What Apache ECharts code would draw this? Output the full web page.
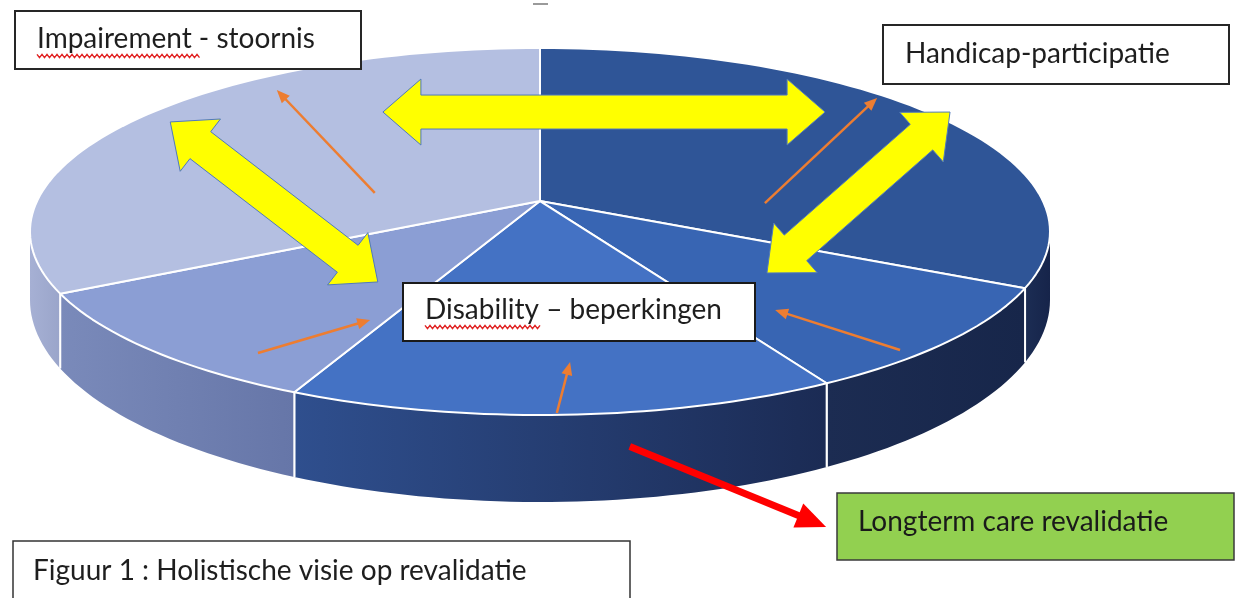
<!DOCTYPE html>
<html>
<head>
<meta charset="utf-8">
<script src="https://cdn.jsdelivr.net/npm/echarts@6/dist/echarts.min.js"></script>
<style>
  html, body { margin: 0; padding: 0; background: #fff; }
  #chart { width: 1236px; height: 598px; }
</style>
</head>
<body>
<div id="chart"></div>
<script>
// pie slices, clockwise from 12 o'clock
const sliceNames = ["Participatie", "Participatie / beperkingen", "Beperkingen", "Stoornis / beperkingen", "Stoornis"];
const sliceValues = [30, 10.5, 17.5, 11.5, 30.5];

// arrows, ends given in pie units (x -1..1 left-right, y -1..1 bottom-top of the top face)
const yellowArrows = [
  [-0.308, 0.651, 0.559, 0.651],
  [-0.725, 0.597, -0.318, -0.275],
  [0.804, 0.651, 0.445, -0.226]
];
const orangeArrows = [
  [-0.324, 0.210, -0.516, 0.771],
  [0.441, 0.155, 0.661, 0.728],
  [-0.553, -0.662, -0.333, -0.482],
  [0.706, -0.646, 0.461, -0.428],
  [0.033, -0.989, 0.059, -0.711]
];
const redArrows = [
  [0.176, -1.172, 0.561, -1.610]
];

const topColors = ["#2F5597", "#3865B3", "#4472C4", "#8B9ED4", "#B4BFE1"];
const wallColors = [
  ["#1C2D54", "#16244A"],
  ["#1C2C52", "#17264A"],
  ["#2F4F8E", "#1B2B54"],
  ["#7A8ABA", "#6676A8"],
  ["#A6B0D4", "#9AA5CA"]
];
const pieApex = [0, 0.166];
// wall is a bit taller at the front than at the sides (perspective)
const wallBase = 0.373;
const wallGrow = 0.101;

const chart = echarts.init(document.getElementById("chart"));

function depthAt(rad) {
  return wallBase + wallGrow * Math.max(0, -Math.sin(rad));
}

function arcPoints(api, a0, a1, lower) {
  const pts = [];
  const n = Math.max(2, Math.ceil(Math.abs(a0 - a1) / 1.5));
  for (let k = 0; k <= n; k++) {
    const a = ((a0 + ((a1 - a0) * k) / n) * Math.PI) / 180;
    pts.push(api.coord([Math.cos(a), Math.sin(a) - (lower ? depthAt(a) : 0)]));
  }
  return pts;
}

function wallLine(api, deg) {
  const r = (deg * Math.PI) / 180;
  const p = api.coord([Math.cos(r), Math.sin(r)]);
  const q = api.coord([Math.cos(r), Math.sin(r) - depthAt(r)]);
  return {
    type: "line",
    shape: { x1: p[0], y1: p[1], x2: q[0], y2: q[1] },
    style: { stroke: "#fff", lineWidth: 2 }
  };
}

function renderSlice(params, api) {
  const i = params.dataIndex;
  const total = sliceValues.reduce((s, v) => s + v, 0);
  const before = sliceValues.slice(0, i).reduce((s, v) => s + v, 0);
  const a0 = 90 - (360 * before) / total;
  const a1 = a0 - (360 * api.value(2)) / total;
  const children = [];

  // front wall: only the part of the rim facing us
  const w0 = Math.min(a0, 0);
  const w1 = Math.max(a1, -180);
  if (w0 > w1) {
    const rim = arcPoints(api, w0, w1, false);
    const bottom = arcPoints(api, w0, w1, true).reverse();
    const xs = rim.map((p) => p[0]);
    children.push({
      type: "polygon",
      shape: { points: rim.concat(bottom) },
      style: {
        fill: {
          type: "linear",
          x: Math.min(...xs), y: 0, x2: Math.max(...xs), y2: 0,
          global: true,
          colorStops: [
            { offset: 0, color: wallColors[i][0] },
            { offset: 1, color: wallColors[i][1] }
          ]
        }
      }
    });
  }
  if (a0 < 0 && a0 > -180) children.push(wallLine(api, a0));
  if (a1 < 0 && a1 > -180) children.push(wallLine(api, a1));

  const face = [api.coord(pieApex)].concat(arcPoints(api, a0, a1, false));
  children.push({
    type: "polygon",
    shape: { points: face },
    style: { fill: topColors[i], stroke: "#fff", lineWidth: 2, lineJoin: "round" }
  });
  return { type: "group", children };
}

function renderBlockArrow(params, api) {
  const p1 = api.coord([api.value(0), api.value(1)]);
  const p2 = api.coord([api.value(2), api.value(3)]);
  const dx = p2[0] - p1[0], dy = p2[1] - p1[1];
  const len = Math.hypot(dx, dy);
  const u = [dx / len, dy / len];
  const n = [-u[1], u[0]];
  const shaft = 17, head = 33, headLen = 38;
  const at = (p, along, side) => [p[0] + u[0] * along + n[0] * side, p[1] + u[1] * along + n[1] * side];
  const pts = [
    p1,
    at(p1, headLen, head), at(p1, headLen, shaft),
    at(p2, -headLen, shaft), at(p2, -headLen, head),
    p2,
    at(p2, -headLen, -head), at(p2, -headLen, -shaft),
    at(p1, headLen, -shaft), at(p1, headLen, -head)
  ];
  return {
    type: "polygon",
    shape: { points: pts },
    style: { fill: "#FFFF00", stroke: "#4F79BD", lineWidth: 1, lineJoin: "miter" }
  };
}

function thinArrow(color, width, headLen, headHalf) {
  return function (params, api) {
    const p1 = api.coord([api.value(0), api.value(1)]);
    const p2 = api.coord([api.value(2), api.value(3)]);
    const dx = p2[0] - p1[0], dy = p2[1] - p1[1];
    const len = Math.hypot(dx, dy);
    const u = [dx / len, dy / len];
    const n = [-u[1], u[0]];
    const base = [p2[0] - u[0] * headLen, p2[1] - u[1] * headLen];
    return {
      type: "group",
      children: [
        {
          type: "line",
          shape: { x1: p1[0], y1: p1[1], x2: base[0] + u[0] * 2, y2: base[1] + u[1] * 2 },
          style: { stroke: color, lineWidth: width }
        },
        {
          type: "polygon",
          shape: {
            points: [
              p2,
              [base[0] + n[0] * headHalf, base[1] + n[1] * headHalf],
              [base[0] - n[0] * headHalf, base[1] - n[1] * headHalf]
            ]
          },
          style: { fill: color }
        }
      ]
    };
  };
}

function wavy(x0, x1, y) {
  const pts = [];
  for (let x = x0, k = 0; x <= x1; x += 2.5, k++) pts.push([x, y + (k % 2 ? 1.6 : -1.6)]);
  return pts;
}

const font = '28px Lato, "Open Sans", sans-serif';

chart.setOption({
  animation: false,
  grid: { left: 30, right: 186, top: 48, bottom: 183 },
  xAxis: { type: "value", min: -1, max: 1, show: false },
  yAxis: { type: "value", min: -1, max: 1, show: false },
  series: [
    {
      type: "custom",
      name: "Revalidatie",
      z: 2,
      renderItem: renderSlice,
      encode: { x: 0, y: 1 },
      data: sliceValues.map((v, i) => ({ name: sliceNames[i], value: [0, 0, v] }))
    },
    {
      type: "custom",
      z: 3,
      renderItem: renderBlockArrow,
      encode: { x: [0, 2], y: [1, 3] },
      data: yellowArrows
    },
    {
      type: "custom",
      z: 3,
      renderItem: thinArrow("#ED7D31", 2.5, 13, 5.5),
      encode: { x: [0, 2], y: [1, 3] },
      data: orangeArrows
    },
    {
      type: "custom",
      z: 3,
      renderItem: thinArrow("#FF0000", 7, 30, 13),
      encode: { x: [0, 2], y: [1, 3] },
      data: redArrows
    }
  ],
  graphic: [
    { type: "line", z: 10, shape: { x1: 533, y1: 4, x2: 548, y2: 4 }, style: { stroke: "#9a9a9a", lineWidth: 2 } },

    { type: "rect", z: 10, shape: { x: 15, y: 11, width: 346, height: 58 }, style: { fill: "#fff", stroke: "#262626", lineWidth: 2 } },
    { type: "text", z: 11, style: { text: "Impairement - stoornis", x: 37, y: 39, font, fill: "#1e1e1e", verticalAlign: "middle" } },
    { type: "polyline", z: 11, shape: { points: wavy(37, 200, 56) }, style: { stroke: "#E02020", lineWidth: 1.4 } },

    { type: "rect", z: 10, shape: { x: 883, y: 25, width: 346, height: 59 }, style: { fill: "#fff", stroke: "#262626", lineWidth: 2 } },
    { type: "text", z: 11, style: { text: "Handicap-participatie", x: 905, y: 54, font, fill: "#1e1e1e", verticalAlign: "middle" } },

    { type: "rect", z: 10, shape: { x: 403, y: 283, width: 352, height: 58 }, style: { fill: "#fff", stroke: "#1a1a1a", lineWidth: 2 } },
    { type: "text", z: 11, style: { text: "Disability \u2013 beperkingen", x: 425, y: 310, font, fill: "#1e1e1e", verticalAlign: "middle" } },
    { type: "polyline", z: 11, shape: { points: wavy(425, 540, 327) }, style: { stroke: "#E02020", lineWidth: 1.4 } },

    { type: "rect", z: 10, shape: { x: 837, y: 493, width: 397, height: 67 }, style: { fill: "#92D050", stroke: "#3a3a3a", lineWidth: 1.5 } },
    { type: "text", z: 11, style: { text: "Longterm care revalidatie", x: 858, y: 522, font, fill: "#1a1a1a", verticalAlign: "middle" } },

    { type: "rect", z: 10, shape: { x: 13, y: 541, width: 617, height: 80 }, style: { fill: "#fff", stroke: "#333", lineWidth: 1.5 } },
    { type: "text", z: 11, style: { text: "Figuur 1 : Holistische visie op revalidatie", x: 33, y: 571, font, fill: "#1e1e1e", verticalAlign: "middle" } }
  ]
});
</script>
</body>
</html>
